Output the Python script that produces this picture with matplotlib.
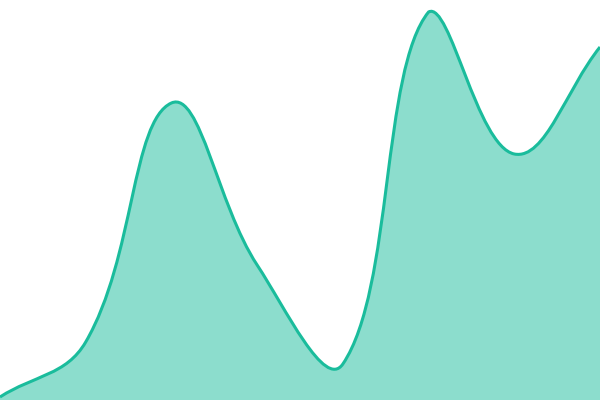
import numpy as np
import matplotlib
matplotlib.use("Agg")
import matplotlib.pyplot as plt
from matplotlib.path import Path
from matplotlib.patches import PathPatch

categories = [0, 1, 2, 3, 4, 5, 6, 7]
values = [3, 58, 297, 135, 36, 388, 246, 353]
y_min, y_max = 0, 400
tension = 0.4


def spline_controls(pts, t, area):
    """Chart.js-style bezier control points computed in display space."""
    n = len(pts)
    ctrl = []
    for i in range(n):
        prev = pts[max(i - 1, 0)]
        cur = pts[i]
        nxt = pts[min(i + 1, n - 1)]
        d01 = np.hypot(*(cur - prev))
        d12 = np.hypot(*(nxt - cur))
        tot = d01 + d12
        s01 = d01 / tot if tot else 0
        s12 = d12 / tot if tot else 0
        fa = t * s01
        fb = t * s12
        cp_prev = cur - fa * (nxt - prev)
        cp_next = cur + fb * (nxt - prev)
        (x0, y0), (x1, y1) = area
        cp_prev = np.array([np.clip(cp_prev[0], x0, x1), np.clip(cp_prev[1], y0, y1)])
        cp_next = np.array([np.clip(cp_next[0], x0, x1), np.clip(cp_next[1], y0, y1)])
        ctrl.append((cp_prev, cp_next))
    return ctrl


fig = plt.figure(figsize=(6, 4), dpi=100)
ax = fig.add_axes([0, 0, 1, 1])
ax.set_xlim(categories[0], categories[-1])
ax.set_ylim(y_min, y_max)
ax.axis("off")

trans = ax.transData
inv = trans.inverted()
pts = trans.transform(np.column_stack([categories, values]).astype(float))
area = trans.transform([[categories[0], y_min], [categories[-1], y_max]])
ctrl = spline_controls(pts, tension, area)

verts = [pts[0]]
codes = [Path.MOVETO]
for i in range(len(pts) - 1):
    verts += [ctrl[i][1], ctrl[i + 1][0], pts[i + 1]]
    codes += [Path.CURVE4] * 3
verts_data = inv.transform(np.array(verts))

line_path = Path(verts_data, codes)
fill_verts = np.vstack([verts_data, [[categories[-1], y_min], [categories[0], y_min], verts_data[0]]])
fill_codes = codes + [Path.LINETO, Path.LINETO, Path.CLOSEPOLY]
fill_path = Path(fill_verts, fill_codes)

ax.add_patch(PathPatch(fill_path, facecolor="#1abc9c", alpha=0.5, edgecolor="none"))
ax.add_patch(PathPatch(line_path, facecolor="none", edgecolor="#1abc9c", linewidth=2.2))

fig.savefig("out.png", dpi=100)
